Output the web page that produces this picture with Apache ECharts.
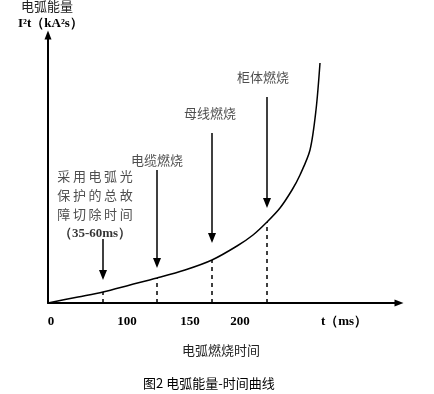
<!DOCTYPE html>
<html>
<head>
<meta charset="utf-8">
<script src="https://cdn.jsdelivr.net/npm/echarts@6/dist/echarts.min.js"></script>
<style>
html,body{margin:0;padding:0;background:#fff;}
#c{width:434px;height:394px;}
</style>
</head>
<body>
<div id="c"></div>
<script>
// Curve (schematic units)
const curveX = [0, 30, 55, 82, 109, 137, 164, 189, 205, 219, 232, 244, 252, 262, 268, 272];
const curveY = [0, 6, 11, 18, 25, 33, 43, 57, 68, 81, 95, 113, 128, 153, 193, 240];
// Event markers: dashed drop lines and arrows
const eventX = [55, 109, 164, 219];
const eventTop = [11, 25, 43, 81];
const arrowFrom = [64, 133, 170, 206];
const arrowTip = [28, 40, 65, 100];
const eventLabels = ['采用电弧光\n保护的总故\n障切除时间\n（35-60ms）', '电缆燃烧', '母线燃烧', '柜体燃烧'];
const labelX = [47, 109, 162, 215];
const labelY = [98, 143, 190, 226];
// X tick labels
const xTickLabels = ['0', '100', '150', '200', 't（ms）'];
const xTickValues = [3, 79, 142, 192, 296];

const CJK = '"Noto Sans CJK SC", sans-serif';
const SERIF = '"Liberation Serif", "DejaVu Serif", serif';

const chart = echarts.init(document.getElementById('c'));
const curve = curveX.map((x, i) => [x, curveY[i]]);
const dashData = eventX.map((x, i) => [{coord: [x, 0]}, {coord: [x, eventTop[i]]}]);
const arrowData = eventX.map((x, i) => [{coord: [x, arrowFrom[i]]}, {coord: [x, arrowTip[i]]}]);
const annot = eventLabels.map((t, i) => ({value: [labelX[i], labelY[i]], name: t}));

function fmtLabel(p) {
  const lines = p.name.split('\n');
  const multi = lines.length > 1;
  return lines.map(l => /\d/.test(l) ? '{n|' + l + '}' :
    '{c|' + (multi ? l.split('').join('\u2009') : l) + '}').join('\n');
}

chart.setOption({
  animation: false,
  backgroundColor: '#fff',
  grid: {left: 48, right: 35, top: 35, bottom: 91},
  xAxis: {
    type: 'value', min: 0, max: 351,
    splitLine: {show: false},
    axisTick: {show: false},
    axisLine: {lineStyle: {color: '#000', width: 2}, symbol: ['none', 'triangle'], symbolSize: [7, 9]},
    axisLabel: {
      customValues: xTickValues,
      formatter: v => xTickLabels[xTickValues.indexOf(v)] || '',
      color: '#000', fontFamily: SERIF, fontWeight: 'bold', fontSize: 13, margin: 12
    }
  },
  yAxis: {
    type: 'value', min: 0, max: 268,
    splitLine: {show: false},
    axisTick: {show: false},
    axisLabel: {show: false},
    axisLine: {show: true, lineStyle: {color: '#000', width: 2}, symbol: ['none', 'triangle'], symbolSize: [7, 9]}
  },
  series: [
    {
      type: 'line', data: curve, smooth: 0.3, symbol: 'none',
      lineStyle: {color: '#000', width: 1.5}, z: 3,
      markLine: {
        silent: true, symbol: ['none', 'none'], label: {show: false},
        lineStyle: {color: '#000', width: 1.5, type: [4, 4]},
        data: dashData
      }
    },
    {
      type: 'line', data: [], symbol: 'none',
      markLine: {
        silent: true, symbol: ['none', 'triangle'], symbolSize: [8, 10], label: {show: false},
        lineStyle: {color: '#000', width: 1.5, type: 'solid'},
        data: arrowData
      }
    },
    {
      type: 'scatter', data: annot, symbolSize: 0, silent: true,
      label: {
        show: true, position: 'inside',
        formatter: fmtLabel,
        align: 'center',
        rich: {
          c: {color: '#222', fontFamily: CJK, fontSize: 13, lineHeight: 19, align: 'center'},
          n: {color: '#000', fontFamily: SERIF, fontWeight: 'bold', fontSize: 13, lineHeight: 19, align: 'center'}
        }
      }
    }
  ],
  graphic: [
    {type: 'text', left: 21, top: 0, style: {text: '电弧能量', font: '13px ' + CJK, fill: '#222'}},
    {type: 'text', left: 18, top: 17, style: {text: 'I²t（kA²s）', font: 'bold 13px ' + SERIF, fill: '#000'}},
    {type: 'text', left: 182, top: 344, style: {text: '电弧燃烧时间', font: '13px ' + CJK, fill: '#222'}},
    {type: 'text', left: 143, top: 377, style: {text: '图2 电弧能量-时间曲线', font: '13px ' + CJK, fill: '#000'}}
  ]
});
</script>
</body>
</html>
